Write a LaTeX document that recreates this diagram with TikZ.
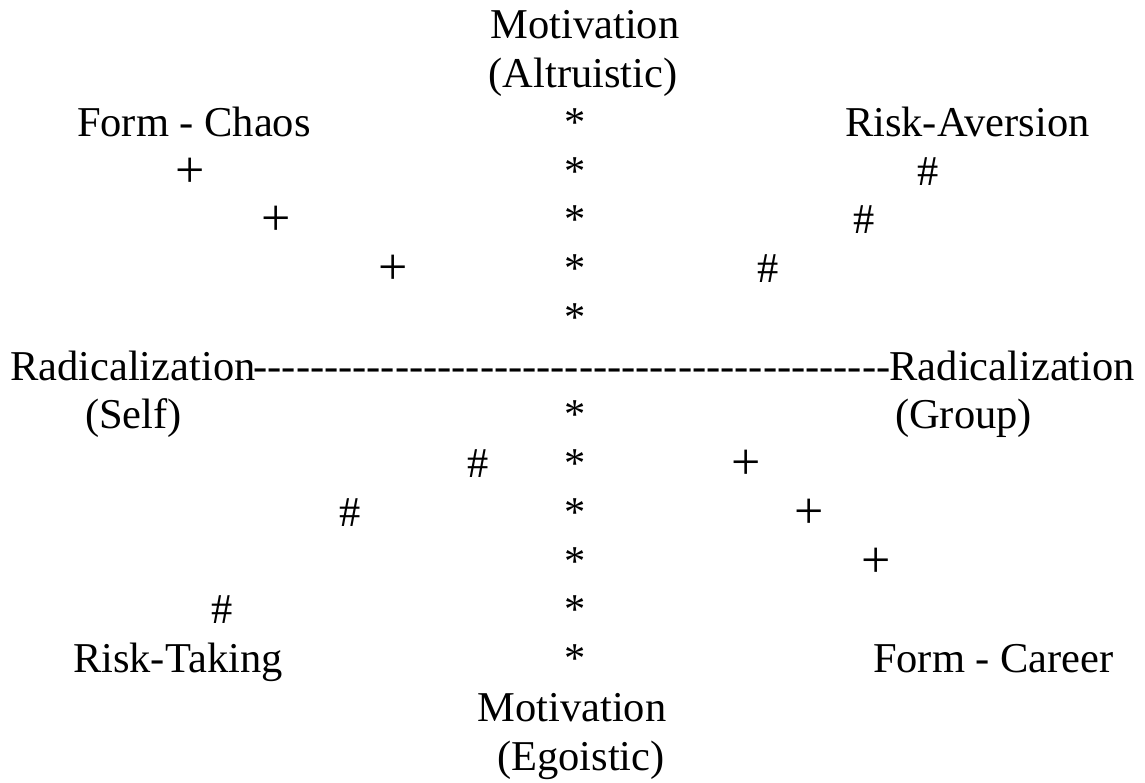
\documentclass[tikz,border=0pt]{standalone}
\usepackage{fontspec}
\setmainfont{Liberation Serif}
\newcommand\hyphrun[1]{\count255=0 \loop\ifnum\count255<#1 -{}\advance\count255 by 1 \repeat}
\begin{document}
\begin{tikzpicture}[x=1pt,y=-1pt,
  every node/.style={inner sep=0pt, outer sep=0pt, font=\fontsize{42.5}{48}\selectfont},
  lft/.style={anchor=base west},
  ctr/.style={anchor=base},
  rgt/.style={anchor=base east},
  plus/.style={anchor=base, font=\fontsize{52}{48}\selectfont, yshift=-2pt}]
\useasboundingbox (0,0) rectangle (1145,783);
% rows (baselines)
\def\ra{39}\def\rb{87.7}\def\rc{136.5}\def\rd{185.2}\def\re{233.9}\def\rf{282.7}
\def\rg{331.4}\def\rh{380.1}\def\ri{428.8}\def\rj{477.6}\def\rk{526.3}\def\rl{575}
\def\rm{623.8}\def\rn{672.5}\def\ro{721.2}\def\rp{770}
\def\sx{575}
% top axis label
\node[ctr] (motA) at (585,\ra) {Motivation};
\node[ctr] (altr) at (583,\rb) {(Altruistic)};
% row 3
\node[lft] (chaos) at (77,\rc) {Form - Chaos};
\node[ctr] (s1) at (\sx,\rc) {*};
\node[lft] (aver) at (845,\rc) {Risk-Aversion};
% row 4
\node[plus] (p1) at (190.5,\rd) {+};
\node[ctr] (s2) at (\sx,\rd) {*};
\node[ctr] (h1) at (928,\rd) {\#};
% row 5
\node[plus] (p2) at (276,\re) {+};
\node[ctr] (s3) at (\sx,\re) {*};
\node[ctr] (h2) at (864.5,\re) {\#};
% row 6
\node[plus] (p3) at (393.5,\rf) {+};
\node[ctr] (s4) at (\sx,\rf) {*};
\node[ctr] (h3) at (768,\rf) {\#};
% row 7
\node[ctr] (s5) at (\sx,\rg) {*};
% row 8
\node[lft] (radS) at (10,\rh) {Radicalization};
\node[ctr] (dash) at (572,\rh) {\hyphrun{45}};
\node[rgt] (radG) at (1135,\rh) {Radicalization};
% row 9
\node[lft] (self) at (85,\ri) {(Self)};
\node[ctr] (s6) at (\sx,\ri) {*};
\node[lft] (group) at (895,\ri) {(Group)};
% row 10
\node[ctr] (h4) at (478,\rj) {\#};
\node[ctr] (s7) at (\sx,\rj) {*};
\node[plus] (p4) at (746,\rj) {+};
% row 11
\node[ctr] (h5) at (350,\rk) {\#};
\node[ctr] (s8) at (\sx,\rk) {*};
\node[plus] (p5) at (809,\rk) {+};
% row 12
\node[ctr] (s9) at (\sx,\rl) {*};
\node[plus] (p6) at (876,\rl) {+};
% row 13
\node[ctr] (h6) at (222,\rm) {\#};
\node[ctr] (s10) at (\sx,\rm) {*};
% row 14
\node[lft] (taking) at (73,\rn) {Risk-Taking};
\node[ctr] (s11) at (\sx,\rn) {*};
\node[lft] (career) at (873,\rn) {Form - Career};
% bottom axis label
\node[ctr] (motE) at (572,\ro) {Motivation};
\node[ctr] (ego) at (581,\rp) {(Egoistic)};
\end{tikzpicture}
\end{document}
